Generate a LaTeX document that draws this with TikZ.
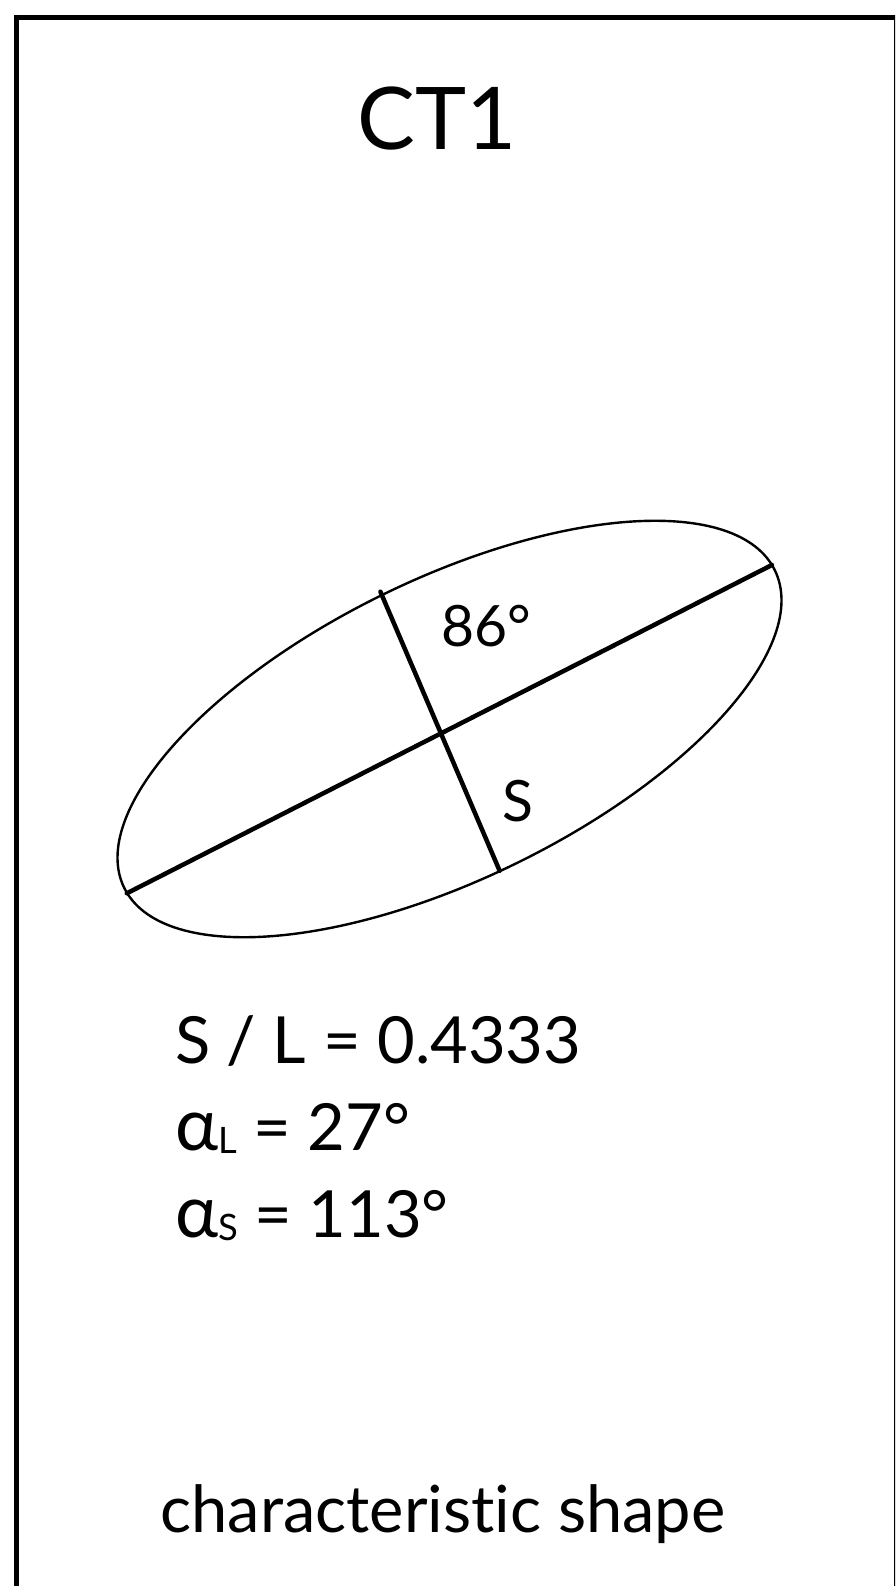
\documentclass[tikz,border=0pt]{standalone}
\usepackage{graphicx}
\usepackage{fontspec}
\setmainfont{Lato}[Ligatures={NoCommon,NoContextual}]
\newcommand{\subtxt}[1]{\raisebox{-3pt}{\scalebox{0.56}{#1}}}
\newcommand{\alphabig}{\scalebox{1.12}{α}}
\begin{document}
\begin{tikzpicture}[x=1pt,y=1pt,
  txt/.style={inner sep=0pt, outer sep=0pt, font=\fontsize{65}{78}\selectfont},
  axisline/.style={line width=4.5pt, line cap=round},
  outline/.style={line width=2.4pt, draw=black}]
\useasboundingbox (0,0) rectangle (895,-1586);
\clip (0,0) rectangle (895,-1586);
% frame
\draw[line width=5.5pt] (16.5,-1620) -- (16.5,-17.5) -- (897,-17.5) -- (897,-1620);
% title
\node[txt, font=\fontsize{86.5}{100}\selectfont, anchor=base] (title) at (437,-150) {CT1};
% ellipse
\draw[outline] (449.5,-729) [rotate around={26:(449.5,-729)}] ellipse [x radius=362, y radius=150];
\coordinate (La) at (126.8,-893.3);
\coordinate (Lb) at (771.9,-565);
\coordinate (Sa) at (380.4,-591.7);
\coordinate (Sb) at (499.6,-870.7);
\draw[axisline] (La) -- (Lb);
\draw[axisline] (Sa) -- (Sb);
\node[txt, font=\fontsize{57}{66}\selectfont, anchor=base west] (ang) at (441.5,-646.7) {86°};
\node[txt, font=\fontsize{57}{66}\selectfont, anchor=base west] (slabel) at (502,-821.7) {S};
% values
\node[txt, anchor=base west] (ratio) at (175,-1063) {S / L = 0.4333};
\node[txt, anchor=base west] (alphaL) at (175,-1150) {\alphabig\subtxt{L} = 27°};
\node[txt, anchor=base west] (alphaS) at (175,-1237) {\alphabig\subtxt{S} = 113°};
% caption
\node[txt, anchor=base] (caption) at (443,-1532) {characteristic shape};
\end{tikzpicture}
\end{document}
